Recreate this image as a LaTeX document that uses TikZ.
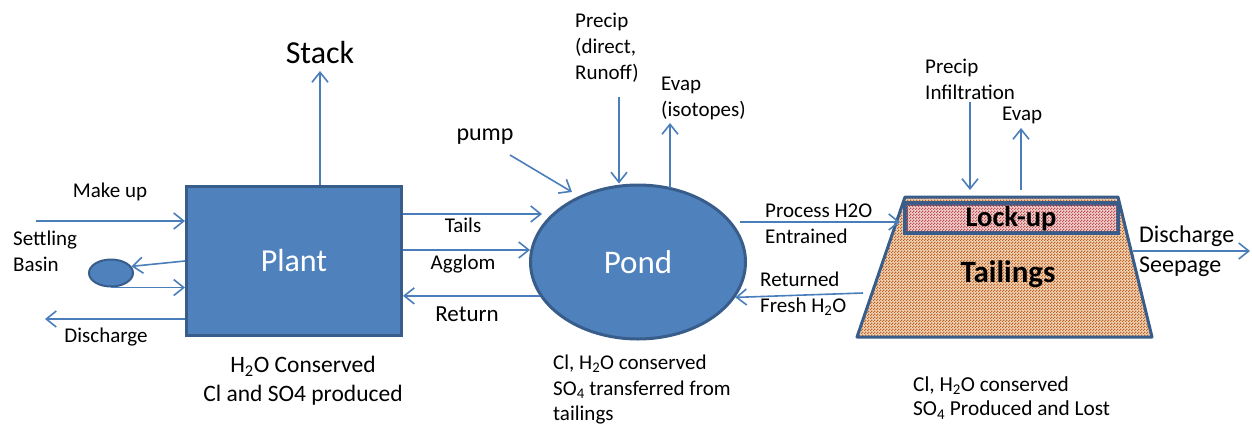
\documentclass[tikz,border=0pt]{standalone}
\usepackage{fontspec}
\setmainfont{Carlito}
\usetikzlibrary{arrows.meta,shapes.geometric,patterns,calc}
\definecolor{blu}{HTML}{4F81BD}
\definecolor{bdr}{HTML}{385D8A}
\definecolor{lnk}{HTML}{4A7EBB}
\definecolor{lockfill}{HTML}{F0D0D0}
\definecolor{lockdot}{HTML}{C0504D}
\definecolor{tailfill}{HTML}{F0D4BA}
\definecolor{taildot}{HTML}{C0621F}
\pgfdeclarepatternformonly{pixdots}{\pgfpointorigin}{\pgfpoint{3pt}{3pt}}{\pgfpoint{3pt}{3pt}}{%
  \pgfpathrectangle{\pgfpointorigin}{\pgfpoint{1.5pt}{1.5pt}}%
  \pgfpathrectangle{\pgfpoint{1.5pt}{1.5pt}}{\pgfpoint{1.5pt}{1.5pt}}%
  \pgfusepath{fill}}
\begin{document}
\begin{tikzpicture}[x=1pt,y=-1pt,
  flow/.style={draw=lnk,line width=1.6pt,-{Straight Barb[length=10pt,width=16pt]}},
  lbl/.style={font=\fontsize{21}{26}\selectfont,inner sep=0pt,align=left},
  blob/.style={draw=bdr,fill=blu,line width=3pt,inner sep=0pt},
]
\useasboundingbox (0,0) rectangle (1252,426);

% ---------- Plant ----------
\node[blob,rectangle,minimum width=215pt,minimum height=149pt,text=white,
      font=\fontsize{32}{36}\selectfont] (plant) at (294,260.5) {Plant};
\coordinate (stackp) at (320,71);
\draw[flow] (plant.north -| stackp) -- (stackp);
\node[inner sep=0pt,font=\fontsize{32}{36}\selectfont] (stack) at (320,53) {Stack};

\coordinate (mk) at (36,221);
\draw[flow] (mk) -- (mk -| plant.west);
\node[lbl] (mklbl) at (110,192) {Make up};

\node[blob,ellipse,line width=2pt,minimum width=44pt,minimum height=27pt] (basin) at (111,273) {};
\coordinate (pb) at (186,261);
\draw[flow] (plant.west |- pb) -- (basin.18);
\draw[flow] (basin.south) -- (basin.south -| plant.west);
\node[lbl,anchor=north west] (sblbl) at (13,231) {Settling\\Basin};

\coordinate (dis) at (45,319);
\draw[flow] (plant.west |- dis) -- (dis);
\node[lbl] (dislbl) at (106,337) {Discharge};

\node[inner sep=0pt,align=center,font=\fontsize{23.5}{29}\selectfont] (plantnote) at (303,381)
  {H\textsubscript{2}O Conserved\\Cl and SO4 produced};

% ---------- Pond ----------
\node[blob,ellipse,minimum width=215pt,minimum height=154pt,text=white,
      font=\fontsize{33}{36}\selectfont] (pond) at (638,262) {Pond};

\coordinate (tl) at (542,214);
\draw[flow] (plant.east |- tl) -- (tl);
\node[lbl] (tllbl) at (463,225) {Tails};
\coordinate (ag) at (530,250);
\draw[flow] (plant.east |- ag) -- (ag);
\node[lbl] (aglbl) at (463,264) {Agglom};
\draw[flow] (pond.199) -- (pond.199 -| plant.east);
\node[lbl,font=\fontsize{23}{26}\selectfont] (rtlbl) at (467,314) {Return};

\coordinate (pu) at (510,155);
\coordinate (pu2) at (572,192);
\draw[flow] (pu) -- (pu2);
\node[lbl,font=\fontsize{24}{26}\selectfont] (pulbl) at (485,137) {pump};

\coordinate (pr) at (619,97);
\draw[flow] (pr) -- (pr |- pond.north);
\node[lbl,anchor=north west] (prlbl) at (575,13) {Precip\\(direct,\\Runoff)};

\coordinate (ev) at (670,123);
\draw[flow] (670,187.5) -- (ev);
\node[lbl,anchor=north west] (evlbl) at (661,77) {Evap\\(isotopes)};

\node[lbl,font=\fontsize{21}{25.5}\selectfont,anchor=north west] (pondnote) at (553,355)
  {Cl, H\textsubscript{2}O conserved\\SO\textsubscript{4} transferred from\\tailings};

% ---------- Tailings ----------
\coordinate (t1) at (905,197);
\coordinate (t2) at (1118,197);
\coordinate (t3) at (1152,337);
\coordinate (t4) at (857,337);
\fill[tailfill] (t1) -- (t2) -- (t3) -- (t4) -- cycle;
\fill[pattern=pixdots,pattern color=taildot] (t1) -- (t2) -- (t3) -- (t4) -- cycle;
\draw[bdr,line width=3pt,line join=round] (t1) -- (t2) -- (t3) -- (t4) -- cycle;
\node[inner sep=0pt,font=\bfseries\fontsize{31}{34}\selectfont] (taillbl) at (1008,274) {Tailings};

\node[draw=bdr,line width=3pt,fill=lockfill,rectangle,minimum width=211pt,minimum height=28pt,
      inner sep=0pt] (lock) at (1011.5,218) {};
\fill[pattern=pixdots,pattern color=lockdot] (lock.north west) rectangle (lock.south east);
\draw[bdr,line width=3pt] (lock.north west) rectangle (lock.south east);
\node[inner sep=0pt,font=\bfseries\fontsize{28.5}{30}\selectfont] (locklbl) at (1011,219) {Lock-up};

\coordinate (pe) at (740,222);
\coordinate (pe2) at (900,222);
\draw[flow] (pe) -- (pe2);
\node[lbl,anchor=north west] (pelbl) at (765,204) {Process H2O\\Entrained};

\coordinate (rf) at (863,293);
\draw[flow] (rf) -- (pond.-20);
\node[lbl,anchor=north west] (rflbl) at (760,272) {Returned\\Fresh H\textsubscript{2}O};

\coordinate (pi) at (970,102);
\draw[flow] (pi) -- (970,190);
\node[lbl,anchor=north west] (pilbl) at (925,59) {Precip\\Infiltration};
\coordinate (te) at (1021,128);
\draw[flow] (1021,190) -- (te);
\node[lbl,anchor=north west] (telbl) at (1002,107) {Evap};

\coordinate (ds) at (1133,251);
\coordinate (ds2) at (1250,251);
\draw[flow] (ds) -- (ds2);
\node[lbl,font=\fontsize{24}{30}\selectfont,anchor=north west] (dslbl) at (1139,226) {Discharge\\Seepage};

\node[lbl,font=\fontsize{21.3}{24.5}\selectfont,anchor=north west] (tailnote) at (913,376.5)
  {Cl, H\textsubscript{2}O conserved\\SO\textsubscript{4} Produced and Lost};
\end{tikzpicture}
\end{document}
